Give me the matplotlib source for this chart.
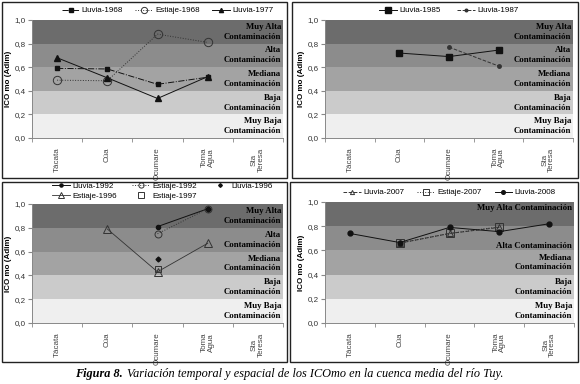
import numpy as np
import matplotlib.pyplot as plt
from matplotlib.patches import Rectangle

plt.rcParams['font.family'] = ['Liberation Sans', 'DejaVu Sans']

estaciones = ['Tácata', 'Cúa', 'Ocumare', 'Toma\nAgua', 'Sta\nTeresa']
nan = np.nan

# panel 1
lluvia_1968 = [0.59, 0.585, 0.455, 0.515, nan]
estiaje_1968 = [0.49, 0.485, 0.88, 0.81, nan]
lluvia_1977 = [0.68, 0.51, 0.335, 0.52, nan]
# panel 2
lluvia_1985 = [nan, 0.72, 0.69, 0.745, nan]
lluvia_1987 = [nan, nan, 0.77, 0.61, nan]
# panel 3
lluvia_1992 = [nan, nan, 0.81, 0.96, nan]
estiaje_1992 = [nan, nan, 0.75, 0.96, nan]
lluvia_1996 = [nan, nan, 0.54, 0.96, nan]
estiaje_1996 = [nan, 0.79, 0.43, 0.67, nan]
estiaje_1997 = [nan, nan, 0.45, nan, nan]
# panel 4
lluvia_2007 = [nan, 0.66, 0.74, 0.79, nan]
estiaje_2007 = [nan, 0.66, 0.74, 0.795, nan]
lluvia_2008 = [0.74, 0.665, 0.79, 0.755, 0.82]

bandas = [0.0, 0.2, 0.4, 0.6, 0.8, 1.0]
colores_banda = ['#efefef', '#cbcbcb', '#a3a3a3', '#8c8c8c', '#6c6c6c']
etiquetas_banda = ['Muy Baja\nContaminación', 'Baja\nContaminación',
                   'Mediana\nContaminación', 'Alta\nContaminación',
                   'Muy Alta\nContaminación']

fig = plt.figure(figsize=(5.8, 3.84), dpi=100)
W, H = 580, 384

def px(l, t, r, b):
    return [l / W, 1 - b / H, (r - l) / W, (b - t) / H]

# panel frames
for (l, t, r, b) in [(2, 2, 287, 178), (292, 2, 578, 178), (2, 182, 287, 362), (290, 182, 578, 362)]:
    fig.patches.append(Rectangle((l / W, 1 - b / H), (r - l) / W, (b - t) / H,
                                 transform=fig.transFigure, fill=False,
                                 edgecolor='#222222', linewidth=1.0))

x = np.arange(5)

def base(ax, labels=etiquetas_banda, label_y=None):
    for i in range(5):
        ax.axhspan(bandas[i], bandas[i + 1], color=colores_banda[i], lw=0, zorder=0)
    ax.set_xlim(-0.5, 4.5)
    ax.set_ylim(0, 1)
    ax.set_yticks(bandas)
    ax.set_yticklabels(['0,0', '0,2', '0,4', '0,6', '0,8', '1,0'], fontsize=5.8, color='#333333')
    ax.set_xticks(x)
    ax.set_xticklabels(estaciones, rotation=90, fontsize=5.8, color='#444444', va='top',
                       ha='center', linespacing=0.95)
    ax.set_xticks(np.arange(-0.5, 5, 1), minor=True)
    ax.tick_params(axis='x', which='major', length=0, pad=7)
    ax.tick_params(axis='x', which='minor', length=3, color='#888888')
    ax.tick_params(axis='y', length=3, color='#888888', pad=1.5)
    for s in ['top', 'right']:
        ax.spines[s].set_visible(False)
    for s in ['left', 'bottom']:
        ax.spines[s].set_color('#888888')
        ax.spines[s].set_linewidth(0.7)
    ax.set_ylabel('ICO mo (Adim)', fontsize=5.8, fontweight='bold', labelpad=2)
    if label_y is None:
        label_y = [0.1, 0.3, 0.5, 0.7, 0.9]
    for lab, yy in zip(labels, label_y):
        ax.text(4.46, yy, lab, ha='right', va='center', fontsize=6.3,
                fontweight='bold', family='Liberation Serif', linespacing=1.3, zorder=5)

lw = 0.7
ink = '#111111'
leg_kw = dict(frameon=False, fontsize=5.8, handlelength=2.2, borderpad=0.2,
              handletextpad=0.3, markerscale=0.75)

# --- panel 1
ax1 = fig.add_axes(px(32, 20, 283, 138))
base(ax1)
ax1.plot(x, lluvia_1968, linestyle='-.', color=ink, lw=lw, marker='s', ms=3, label='Lluvia-1968')
ax1.plot(x, estiaje_1968, linestyle=':', color='#333333', lw=lw, marker='o', ms=6,
         mfc='none', mec='#333333', mew=0.7, label='Estiaje-1968')
ax1.plot(x, lluvia_1977, linestyle='-', color=ink, lw=lw, marker='^', ms=4, label='Lluvia-1977')
ax1.legend(loc='lower center', bbox_to_anchor=(0.54, 1.0), ncol=3, columnspacing=1.5, **leg_kw)

# --- panel 2
ax2 = fig.add_axes(px(325, 20, 573, 138))
base(ax2)
ax2.plot(x, lluvia_1985, linestyle='-', color=ink, lw=lw, marker='s', ms=5, label='Lluvia-1985')
ax2.plot(x, lluvia_1987, linestyle='--', color='#333333', lw=lw, marker='o', ms=2.5, label='Lluvia-1987')
ax2.legend(loc='lower center', bbox_to_anchor=(0.5, 1.0), ncol=2, columnspacing=2.0, **leg_kw)

# --- panel 3
ax3 = fig.add_axes(px(32, 204, 283, 323))
base(ax3)
h1, = ax3.plot(x, lluvia_1992, linestyle='-', color=ink, lw=lw, marker='o', ms=3, label='Lluvia-1992')
h2, = ax3.plot(x, estiaje_1992, linestyle=':', color='#333333', lw=lw, marker='o', ms=5,
               mfc='none', mec='#333333', mew=0.7, label='Estiaje-1992')
h3, = ax3.plot(x, lluvia_1996, linestyle='none', color=ink, marker='D', ms=2.5, label='Lluvia-1996')
h4, = ax3.plot(x, estiaje_1996, linestyle='-', color='#333333', lw=0.6, marker='^', ms=6,
               mfc='none', mec='#333333', mew=0.7, label='Estiaje-1996')
h5, = ax3.plot(x, estiaje_1997, linestyle='none', marker='s', ms=5, mfc='none', mec='#333333',
               mew=0.7, label='Estiaje-1997')
orden = [h1, h4, h2, h5, h3]
ax3.legend(orden, [h.get_label() for h in orden], loc='lower center', bbox_to_anchor=(0.52, 0.99),
           ncol=3, columnspacing=1.8, labelspacing=0.2, **leg_kw)

# --- panel 4
ax4 = fig.add_axes(px(325, 202, 574, 323))
base(ax4, labels=['Muy Baja\nContaminación', 'Baja\nContaminación', 'Mediana\nContaminación',
                  'Alta Contaminación', 'Muy Alta Contaminación'],
      label_y=[0.1, 0.3, 0.5, 0.635, 0.95])
ax4.plot(x, lluvia_2007, linestyle='--', color='#333333', lw=lw, marker='^', ms=4,
         mfc='none', mec='#333333', mew=0.7, label='Lluvia-2007')
ax4.plot(x, estiaje_2007, linestyle=':', color='#333333', lw=lw, marker='s', ms=6,
         mfc='none', mec='#333333', mew=0.7, label='Estiaje-2007')
ax4.plot(x, lluvia_2008, linestyle='-', color=ink, lw=lw, marker='o', ms=3.5, label='Lluvia-2008')
ax4.legend(loc='lower center', bbox_to_anchor=(0.5, 1.0), ncol=3, columnspacing=1.6, **leg_kw)

# caption
t1 = fig.text(75 / W, 1 - 374 / H, 'Figura 8.', ha='left', va='center', fontsize=8.8,
              family='Liberation Serif', style='italic', fontweight='bold')
fig.canvas.draw()
bb = t1.get_window_extent()
fig.text(bb.x1 / W + 4 / W, 1 - 374 / H,
         'Variación temporal y espacial de los ICOmo en la cuenca media del río Tuy.',
         ha='left', va='center', fontsize=8.8, family='Liberation Serif', style='italic')

fig.savefig('out.png', dpi=100)
